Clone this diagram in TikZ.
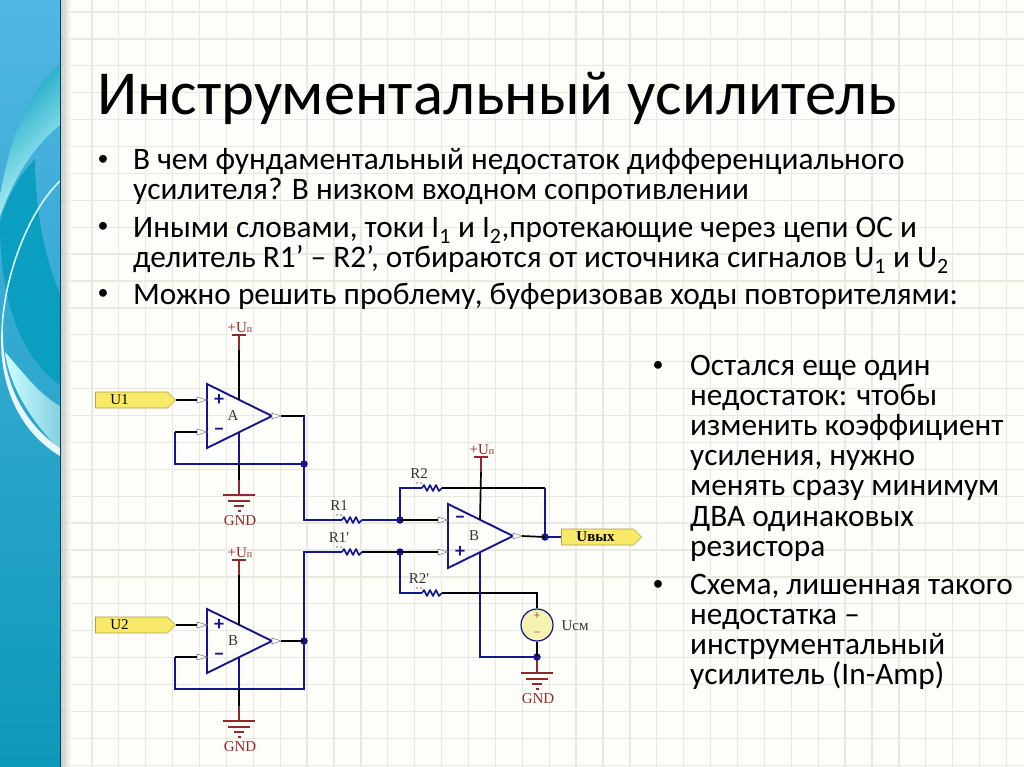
\documentclass[tikz,border=0pt]{standalone}
\usepackage{fontspec}
\setmainfont{Carlito}
\newfontfamily\schfont{Liberation Serif}
\usetikzlibrary{shapes.symbols}

\definecolor{paperc}{HTML}{FDFDFA}
\definecolor{gridc}{HTML}{E9E9E1}
\definecolor{netblue}{HTML}{16168C}
\definecolor{railred}{HTML}{8E2A2A}
\definecolor{flagc}{HTML}{F8E968}
\definecolor{srcc}{HTML}{F5F3B0}
\definecolor{bandtop}{HTML}{52B6E4}
\definecolor{bandlow}{HTML}{0C98B8}
\definecolor{bandteal}{HTML}{0A9FC0}

\tikzset{
  wire/.style={black,line width=1.7pt},
  net/.style={netblue,line width=1.9pt},
  rail/.style={railred,line width=1.5pt},
  junct/.style={circle,fill=netblue,inner sep=0pt,minimum size=7.5pt},
  sch/.style={font=\schfont\fontsize{15}{15}\selectfont,inner sep=0pt,text=black!80},
  head/.style={font=\fontsize{62.6}{62}\selectfont,anchor=base west,inner sep=0pt},
  para/.style={font=\fontsize{31.3}{30.1}\selectfont,anchor=north west,align=left,inner sep=0pt},
  bull/.style={font=\fontsize{22}{22}\selectfont,inner sep=0pt},
  flag/.style={signal,signal to=east,draw=flagc!70!black,fill=flagc,line width=.6pt,
    minimum width=80pt,minimum height=16pt,inner sep=0pt,font=\schfont\fontsize{15}{15}\selectfont},
  pics/opamp/.style n args={3}{code={
    \draw[net,line join=miter] (0,-32) -- (65,0) -- (0,32) -- cycle;
    \draw[gray,fill=white,line width=.6pt] (-10,-19) -- (0,-16) -- (-10,-13) -- cycle;
    \draw[gray,fill=white,line width=.6pt] (-10,13) -- (0,16) -- (-10,19) -- cycle;
    \draw[gray,fill=white,line width=.6pt] (65,-3) -- (74,0) -- (65,3) -- cycle;
    \node[sch] at (26,0) {#1};
    \node[netblue,font=\bfseries\fontsize{20}{20}\selectfont,inner sep=0pt] at (12,-16) {#2};
    \node[netblue,font=\bfseries\fontsize{20}{20}\selectfont,inner sep=0pt] at (12,16) {#3};
    \coordinate (-in1) at (-10,-16);
    \coordinate (-in2) at (-10,16);
    \coordinate (-out) at (74,0);
    \coordinate (-top) at (32,-16);
    \coordinate (-bot) at (32,16);
  }},
  pics/vplus/.style={code={
    \draw[rail,line width=1.8pt] (-7,0) -- (7,0);
    \draw[rail] (0,0) -- (0,15);
    \coordinate (-stub) at (0,15);
    \node[sch,text=railred] at (1,-7) {+U\fontsize{10}{10}\selectfont п};
  }},
  pics/gndsym/.style={code={
    \draw[rail] (0,-15) -- (0,0);
    \draw[rail,line width=1.8pt] (-16,0) -- (16,0);
    \draw[rail,line width=1.8pt] (-11,6) -- (11,6);
    \draw[rail,line width=1.8pt] (-5,11) -- (5,11);
    \draw[rail,line width=1.4pt] (-1.5,16) -- (1.5,16);
    \coordinate (-stub) at (0,-15);
    \node[sch,text=railred] at (1,26) {GND};
  }},
  pics/resist/.style={code={
    \draw[netblue,line width=1.6pt,line join=round] (0,0) -- (2,-3) -- (5,3) -- (8,-3) -- (11,3) -- (14,-3) -- (17,3) -- (20,0);
    \fill[gray] (-5,-5) circle (.9pt) (-1,-5) circle (.9pt);
    \coordinate (-l) at (0,0);
    \coordinate (-r) at (20,0);
    \node[sch] at (-3,-14) {#1};
  }},
}

\begin{document}
\begin{tikzpicture}[x=1pt,y=-1pt]
  \useasboundingbox (0,0) rectangle (1024,767);
  \fill[paperc] (0,0) rectangle (1024,767);

  % grid paper
  \foreach \gx in {0,...,36} {
    \draw[gridc,line width=1.3pt] (65+26.9*\gx,0) -- (65+26.9*\gx,767);
  }
  \foreach \gy in {0,...,28} {
    \draw[gridc,line width=1.3pt] (60,12+26.9*\gy) -- (1024,12+26.9*\gy);
  }

  % side band
  \shade[left color=black!30,right color=paperc,opacity=.7] (60,0) rectangle (71,767);
  \shade[top color=bandtop,bottom color=bandlow] (0,0) rectangle (60,767);
  \begin{scope}
    \clip (0,0) rectangle (60,767);
    \fill[bandteal] (0,222) .. controls (8,195) and (20,175) .. (35,159)
      .. controls (35,210) and (45,260) .. (60,294) -- (60,385)
      .. controls (25,360) and (0,310) .. (0,222) -- cycle;
    \shade[left color=bandteal,right color=white!80!cyan,shading angle=45]
      (60,64) .. controls (35,85) and (12,125) .. (0,196) -- (0,216)
      .. controls (15,175) and (35,145) .. (60,125) -- cycle;
    \shade[left color=white!80!cyan,right color=bandteal!50!white] (5,352) .. controls (25,375) and (40,395) .. (60,406)
      -- (60,450) .. controls (35,425) and (10,390) .. (5,352) -- cycle;
    \draw[white!85!cyan,line width=1.6pt] (60,181) .. controls (25,215) and (2,285) .. (2,335);
    \fill[white!90!cyan] (3,335) .. controls (3,395) and (35,432) .. (60,448) -- (60,456)
      .. controls (25,435) and (0,395) .. (1,335) -- cycle;
  \end{scope}
  \draw[black!55!bandlow,line width=.8pt] (60,0) -- (60,767);

  % slide text
  \node[head] (title) at (97,115) {Инструментальный усилитель};
  \node[bull] (b1) at (103,160) {•};
  \node[para] (t1) at (133,148.5) {В чем фундаментальный недостаток дифференциального\\усилителя? В низком входном сопротивлении};
  \node[bull] (b2) at (103,227) {•};
  \node[para] (t2) at (133,217) {Иными словами, токи I\textsubscript{1} и I\textsubscript{2},протекающие через цепи ОС и\\делитель R1’ – R2’, отбираются от источника сигналов U\textsubscript{1} и U\textsubscript{2}};
  \node[bull] (b3) at (103,294) {•};
  \node[para] (t3) at (133,283) {Можно решить проблему, буферизовав ходы повторителями:};
  \node[bull] (b4) at (658,366) {•};
  \node[para] (t4) at (690,355) {Остался еще один\\недостаток: чтобы\\изменить коэффициент\\усиления, нужно\\менять сразу минимум\\ДВА одинаковых\\резистора};
  \node[bull] (b5) at (658,585) {•};
  \node[para] (t5) at (690,574) {Схема, лишенная такого\\недостатка –\\инструментальный\\усилитель (In-Amp)};

  % amplifiers and rails
  \pic (opa) at (207,416) {opamp={A}{+}{−}};
  \pic (opb) at (207,641) {opamp={B}{+}{−}};
  \pic (opc) at (448,536) {opamp={B}{−}{+}};
  \pic (vpa) at (239,335) {vplus};
  \pic (vpb) at (239,560) {vplus};
  \pic (vpc) at (481,457) {vplus};
  \pic (gna) at (239,495) {gndsym};
  \pic (gnb) at (239,721) {gndsym};
  \pic (gnc) at (537,673) {gndsym};

  \pic (r1) at (342,520) {resist={R1}};
  \pic (r1s) at (342,552) {resist={R1'}};
  \pic (r2) at (422,488) {resist={R2}};
  \pic (r2s) at (422,593) {resist={R2'}};

  % flags
  \node[flag] (u1) at (131.5,400) {\hspace*{-24pt}U1};
  \node[flag] (u2) at (131.5,625) {\hspace*{-24pt}U2};
  \node[flag] (uout) at (597.5,537) {\hspace*{-4pt}\textbf{Uвых}};

  % junctions
  \node[junct] (ja) at (304,464) {};
  \node[junct] (jb) at (304,641) {};
  \node[junct] (jc) at (400,520) {};
  \node[junct] (jd) at (400,552) {};
  \node[junct] (je) at (545,537) {};
  \node[junct] (jf) at (537,657) {};

  % source
  \node[circle,draw=netblue,fill=srcc,line width=1.2pt,minimum size=32pt,inner sep=0pt] (src) at (537,625) {};
  \node[sch,text=railred,font=\schfont\fontsize{12}{12}\selectfont] (srcp) at (537,616) {+};
  \node[sch,text=railred,font=\schfont\fontsize{12}{12}\selectfont] (srcm) at (537,634) {−};
  \node[sch] (srcl) at (575,626) {Uсм};

  % wires
  \draw[wire] (u1.east) -- (opa-in1);
  \draw[wire] (u2.east) -- (opb-in1);
  \draw[wire] (opa-out) -| (304,430);
  \draw[net] (304,416) -- (ja.center);
  \draw[wire] (opb-out) -- (jb.center);
  \draw[net] (ja.center) -- (175,464) -- (175,432);
  \draw[wire] (175,432) -- (opa-in2);
  \draw[net] (jb.center) |- (175,689) -- (175,657);
  \draw[wire] (175,657) -- (opb-in2);
  \draw[net] (ja.center) |- (r1-l);
  \draw[net] (jb.center) |- (r1s-l);
  \draw[net] (r1-r) -- (jc.center);
  \draw[wire] (r1s-r) -- (jd.center);
  \draw[wire] (jc.center) -- (opc-in1);
  \draw[wire] (jd.center) -- (opc-in2);
  \draw[net] (jc.center) |- (r2-l);
  \draw[wire] (r2-r) -- (545,488);
  \draw[net] (545,488) -- (je.center);
  \draw[wire] (opc-out) -- (je.center);
  \draw[net] (je.center) -- (uout.west);
  \draw[net] (jd.center) |- (r2s-l);
  \draw[wire] (r2s-r) -| (src.north);
  \draw[wire] (src.south) -- (jf.center);
  \draw[rail] (jf.center) -- (gnc-stub);
  \draw[net] (opc-bot) |- (jf.center);

  % supply leads
  \draw[wire] (vpa-stub) -- (opa-top);
  \draw[wire] (vpb-stub) -- (opb-top);
  \draw[wire] (vpc-stub) -- (opc-top);
  \draw[net] (opa-bot) -- (239,464);
  \draw[wire] (239,464) -- (gna-stub);
  \draw[net] (opb-bot) -- (239,689);
  \draw[wire] (239,689) -- (gnb-stub);
\end{tikzpicture}
\end{document}
